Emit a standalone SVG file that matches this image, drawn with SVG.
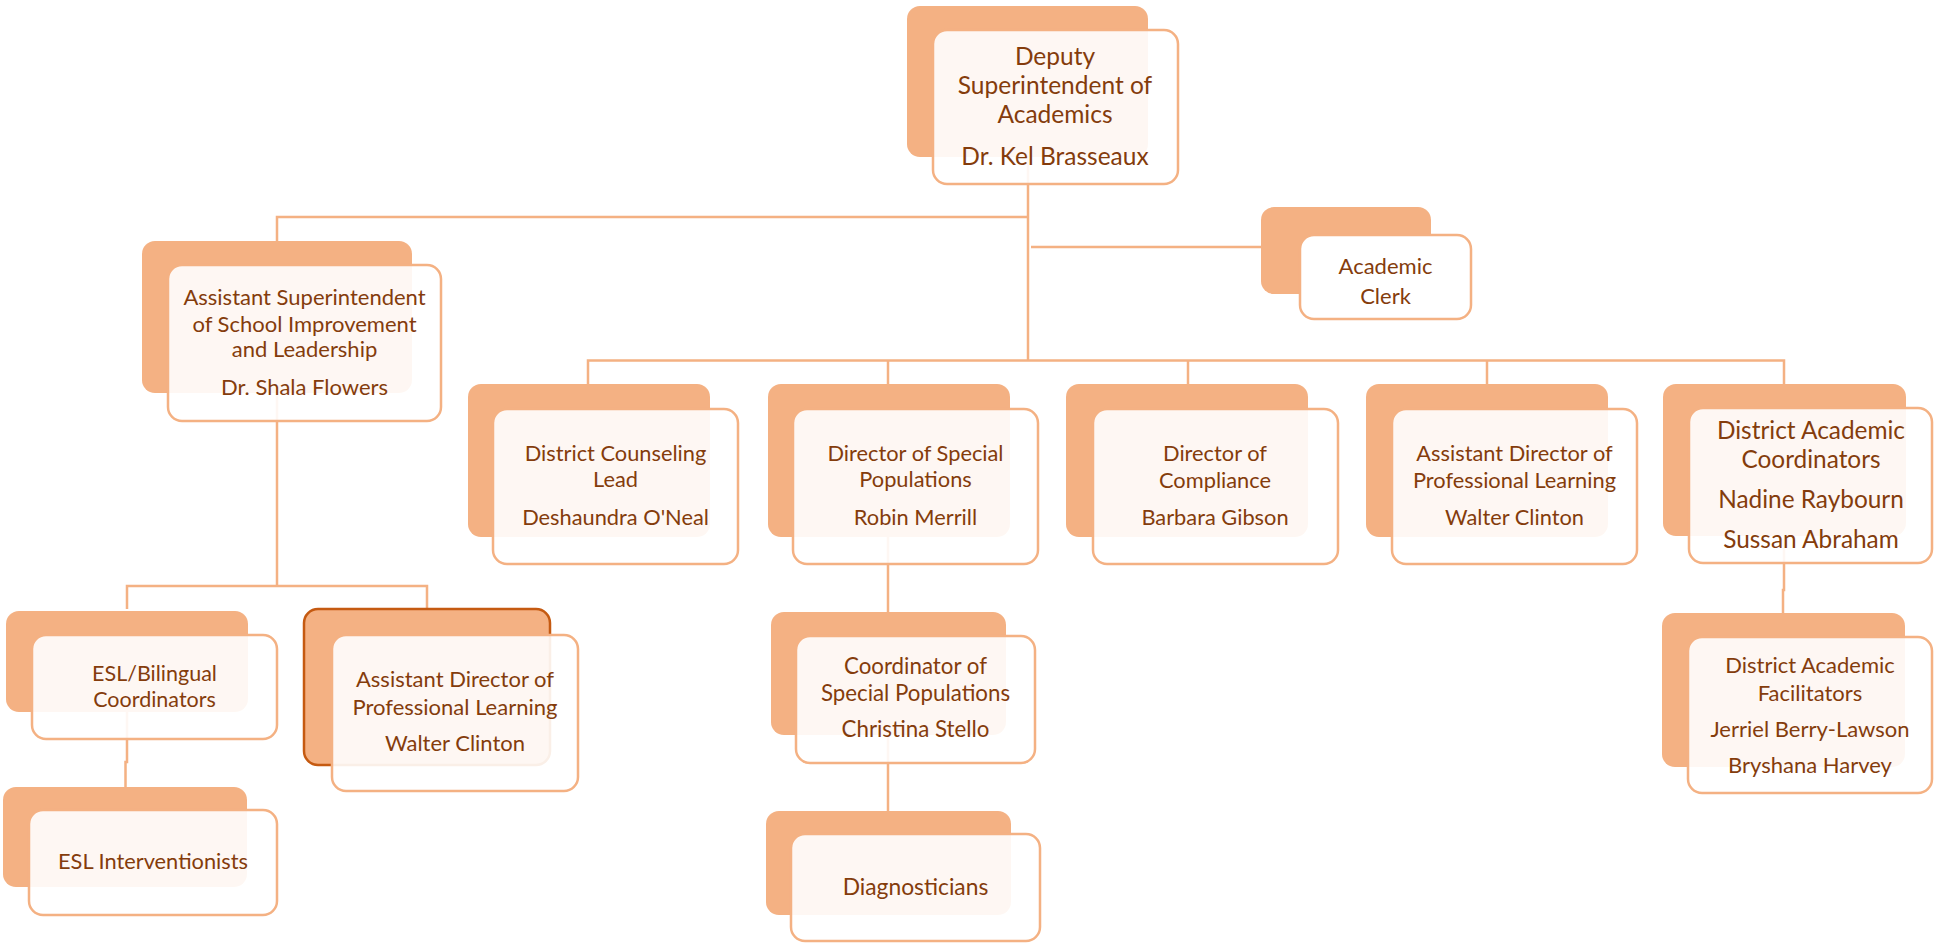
<svg xmlns="http://www.w3.org/2000/svg" width="1934" height="948" viewBox="0 0 1934 948">
<style>
.back{fill:#F4B183}
.hl{fill:#F4B183;stroke:#C55A11;stroke-width:2.5}
.front{fill:#ffffff;fill-opacity:0.9;stroke:#F4B183;stroke-width:2.5}
.solid{fill:#ffffff;stroke:#F4B183;stroke-width:2.5}
.conn{fill:none;stroke:#F4B183;stroke-width:2.5}
text{font-family:Lato,"Liberation Sans",sans-serif;fill:#843C0C;text-anchor:middle}
</style>
<rect width="1934" height="948" fill="#ffffff"/>
<g id="connectors">
<path class="conn" d="M1028 157 V360.5"/>
<path class="conn" d="M1028 217 H277 V241"/>
<path class="conn" d="M1031 247 H1261"/>
<path class="conn" d="M588 384 V360.5 H1784 V384"/>
<path class="conn" d="M888 360.5 V384"/>
<path class="conn" d="M1188 360.5 V384"/>
<path class="conn" d="M1487 360.5 V384"/>
<path class="conn" d="M277 393 V586"/>
<path class="conn" d="M127 609 V586 H427 V609"/>
<path class="conn" d="M127 712 V762 H125.5 V787"/>
<path class="conn" d="M888 537 V612"/>
<path class="conn" d="M888 735 V811"/>
<path class="conn" d="M1784 536 V590 H1783 V613"/>
</g>
<g id="node-deputy">
<rect class="back" x="907" y="6" width="241" height="151" rx="13"/>
<rect class="front" x="933" y="30" width="245" height="154" rx="14"/>
<text font-size="24.5"><tspan x="1055" y="65">Deputy</tspan><tspan x="1055" y="94">Superintendent of</tspan><tspan x="1055" y="123">Academics</tspan><tspan x="1055" y="165">Dr. Kel Brasseaux</tspan></text>
</g>
<g id="node-asst-supt">
<rect class="back" x="142" y="241" width="270" height="152" rx="13"/>
<rect class="front" x="168" y="265" width="273" height="156" rx="14"/>
<text font-size="22"><tspan x="304.5" y="305">Assistant Superintendent</tspan><tspan x="304.5" y="332">of School Improvement</tspan><tspan x="304.5" y="357">and Leadership</tspan><tspan x="304.5" y="395">Dr. Shala Flowers</tspan></text>
</g>
<g id="node-clerk">
<rect class="back" x="1261" y="207" width="170" height="87" rx="13"/>
<rect class="solid" x="1300" y="235" width="171" height="84" rx="14"/>
<text font-size="22"><tspan x="1385.5" y="274">Academic</tspan><tspan x="1385.5" y="304">Clerk</tspan></text>
</g>
<g id="node-counseling">
<rect class="back" x="468" y="384" width="242" height="153" rx="13"/>
<rect class="front" x="493" y="409" width="245" height="155" rx="14"/>
<text font-size="21.8"><tspan x="615.5" y="461">District Counseling</tspan><tspan x="615.5" y="487">Lead</tspan><tspan x="615.5" y="525">Deshaundra O'Neal</tspan></text>
</g>
<g id="node-special-pop">
<rect class="back" x="768" y="384" width="242" height="153" rx="13"/>
<rect class="front" x="793" y="409" width="245" height="155" rx="14"/>
<text font-size="21.8"><tspan x="915.5" y="461">Director of Special</tspan><tspan x="915.5" y="487">Populations</tspan><tspan x="915.5" y="525">Robin Merrill</tspan></text>
</g>
<g id="node-compliance">
<rect class="back" x="1066" y="384" width="242" height="153" rx="13"/>
<rect class="front" x="1093" y="409" width="245" height="155" rx="14"/>
<text font-size="21.8"><tspan x="1215" y="461">Director of</tspan><tspan x="1215" y="488">Compliance</tspan><tspan x="1215" y="525">Barbara Gibson</tspan></text>
</g>
<g id="node-asst-dir-pl">
<rect class="back" x="1366" y="384" width="242" height="153" rx="13"/>
<rect class="front" x="1392" y="409" width="245" height="155" rx="14"/>
<text font-size="21.8"><tspan x="1514.5" y="461">Assistant Director of</tspan><tspan x="1514.5" y="488">Professional Learning</tspan><tspan x="1514.5" y="525">Walter Clinton</tspan></text>
</g>
<g id="node-dac">
<rect class="back" x="1663" y="384" width="243" height="152" rx="13"/>
<rect class="front" x="1689" y="408" width="243" height="155" rx="14"/>
<text font-size="24.4"><tspan x="1811" y="439">District Academic</tspan><tspan x="1811" y="468">Coordinators</tspan><tspan x="1811" y="508">Nadine Raybourn</tspan><tspan x="1811" y="548">Sussan Abraham</tspan></text>
</g>
<g id="node-esl-bil">
<rect class="back" x="6" y="611" width="242" height="101" rx="13"/>
<rect class="front" x="32" y="635" width="245" height="104" rx="14"/>
<text font-size="21.5"><tspan x="154.5" y="681">ESL/Bilingual</tspan><tspan x="154.5" y="707">Coordinators</tspan></text>
</g>
<g id="node-asst-dir-pl-2">
<rect class="hl" x="304" y="609" width="246" height="156" rx="14"/>
<rect class="front" x="332" y="635" width="246" height="156" rx="14"/>
<text font-size="22"><tspan x="455" y="687">Assistant Director of</tspan><tspan x="455" y="715">Professional Learning</tspan><tspan x="455" y="751">Walter Clinton</tspan></text>
</g>
<g id="node-esl-int">
<rect class="back" x="3" y="787" width="244" height="100" rx="13"/>
<rect class="front" x="29" y="810" width="248" height="105" rx="14"/>
<text font-size="21.8"><tspan x="153" y="869">ESL Interventionists</tspan></text>
</g>
<g id="node-coord-sp">
<rect class="back" x="771" y="612" width="235" height="123" rx="13"/>
<rect class="front" x="796" y="636" width="239" height="127" rx="14"/>
<text font-size="22.3"><tspan x="915.5" y="674">Coordinator of</tspan><tspan x="915.5" y="701">Special Populations</tspan><tspan x="915.5" y="737">Christina Stello</tspan></text>
</g>
<g id="node-diag">
<rect class="back" x="766" y="811" width="245" height="104" rx="13"/>
<rect class="front" x="791" y="834" width="249" height="107" rx="14"/>
<text font-size="22.8"><tspan x="915.5" y="895">Diagnosticians</tspan></text>
</g>
<g id="node-daf">
<rect class="back" x="1662" y="613" width="243" height="154" rx="13"/>
<rect class="front" x="1688" y="637" width="244" height="156" rx="14"/>
<text font-size="22"><tspan x="1810" y="673">District Academic</tspan><tspan x="1810" y="701">Facilitators</tspan><tspan x="1810" y="737">Jerriel Berry-Lawson</tspan><tspan x="1810" y="773">Bryshana Harvey</tspan></text>
</g>
</svg>
